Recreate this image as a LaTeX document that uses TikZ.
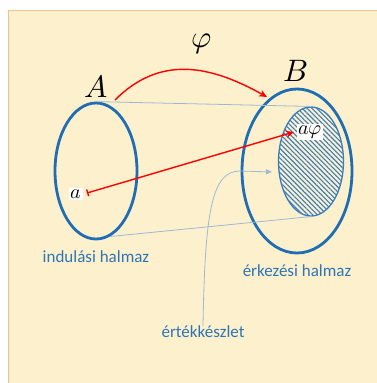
\documentclass[tikz,border=0pt]{standalone}
\usepackage{fontspec}
\setmainfont{Carlito}
\usepackage{unicode-math}
\usetikzlibrary{shapes.geometric,arrows.meta,patterns.meta}
\definecolor{bgfill}{HTML}{FDF0CD}
\definecolor{bgline}{HTML}{F2C18A}
\definecolor{setblue}{HTML}{1F6DB3}
\definecolor{hatchblue}{HTML}{3A7DC0}
\definecolor{thinblue}{HTML}{9DB9D6}
\definecolor{lblblue}{HTML}{2E75B6}
\begin{document}
\begin{tikzpicture}[x=1pt,y=-1pt,
  setell/.style={draw=setblue,line width=2.8pt,ellipse,inner sep=0pt},
  thinline/.style={draw=thinblue,line width=0.8pt},
  redarrow/.style={draw=red,line width=1.4pt},
  mathlbl/.style={inner sep=0pt,font=\fontsize{31}{33}\selectfont},
  eltlbl/.style={fill=white,inner sep=1.5pt,font=\fontsize{20}{22}\selectfont},
  setlbl/.style={text=lblblue,inner sep=0pt,font=\fontsize{17}{19}\selectfont}]
\useasboundingbox (0,0) rectangle (376,383);
\path[fill=bgfill,draw=bgline,line width=0.8pt] (8.5,10.5) rectangle (378,385);
% sets
\node[setell,minimum width=82pt,minimum height=136pt] (Aell) at (96,171) {};
\node[setell,minimum width=110pt,minimum height=164pt] (Bell) at (297,171) {};
\node[ellipse,draw=hatchblue,line width=1.3pt,minimum width=65pt,minimum height=109pt,inner sep=0pt,
  pattern={Lines[angle=-45,distance=3.4pt,line width=1.1pt]},pattern color=hatchblue] (Cell) at (311,161.5) {};
% thin lines
\draw[thinline] (Aell.north) -- (Cell.north);
\draw[thinline] (Aell.-78) -- (Cell.south);
% labels
\node[mathlbl] (Alab) at (96,86) {$A$};
\node[mathlbl] (Blab) at (296,71) {$B$};
\node[mathlbl] (philab) at (202,44) {$\varphi$};
\node[eltlbl] (alab) at (76,194) {$a$};
\node[eltlbl] (aphilab) at (310,132) {$a\varphi$};
\node[setlbl] (ind) at (96,257) {indulási halmaz};
\node[setlbl] (erk) at (297,271) {érkezési halmaz};
\node[setlbl] (ert) at (203,332) {értékkészlet};
% red arrows
\coordinate (arcS) at (115,100);
\coordinate (arcE) at (267,97);
\draw[redarrow,-{Stealth[length=8pt,width=7pt]}] (arcS) .. controls (160,55) and (210,65) .. (arcE);
\coordinate (aPt) at (87,193);
\coordinate (aphiPt) at (294,132);
\draw[redarrow,{Bar[width=7pt]}-{Stealth[length=8pt,width=7pt]}] (aPt) -- (aphiPt);
% value set pointer
\coordinate (ertEnd) at (272,172);
\draw[thinline,-{Triangle[length=6pt,width=5pt]}] (ert.north) .. controls (205,210) and (212,171) .. (240,171) -- (ertEnd);
\end{tikzpicture}
\end{document}
